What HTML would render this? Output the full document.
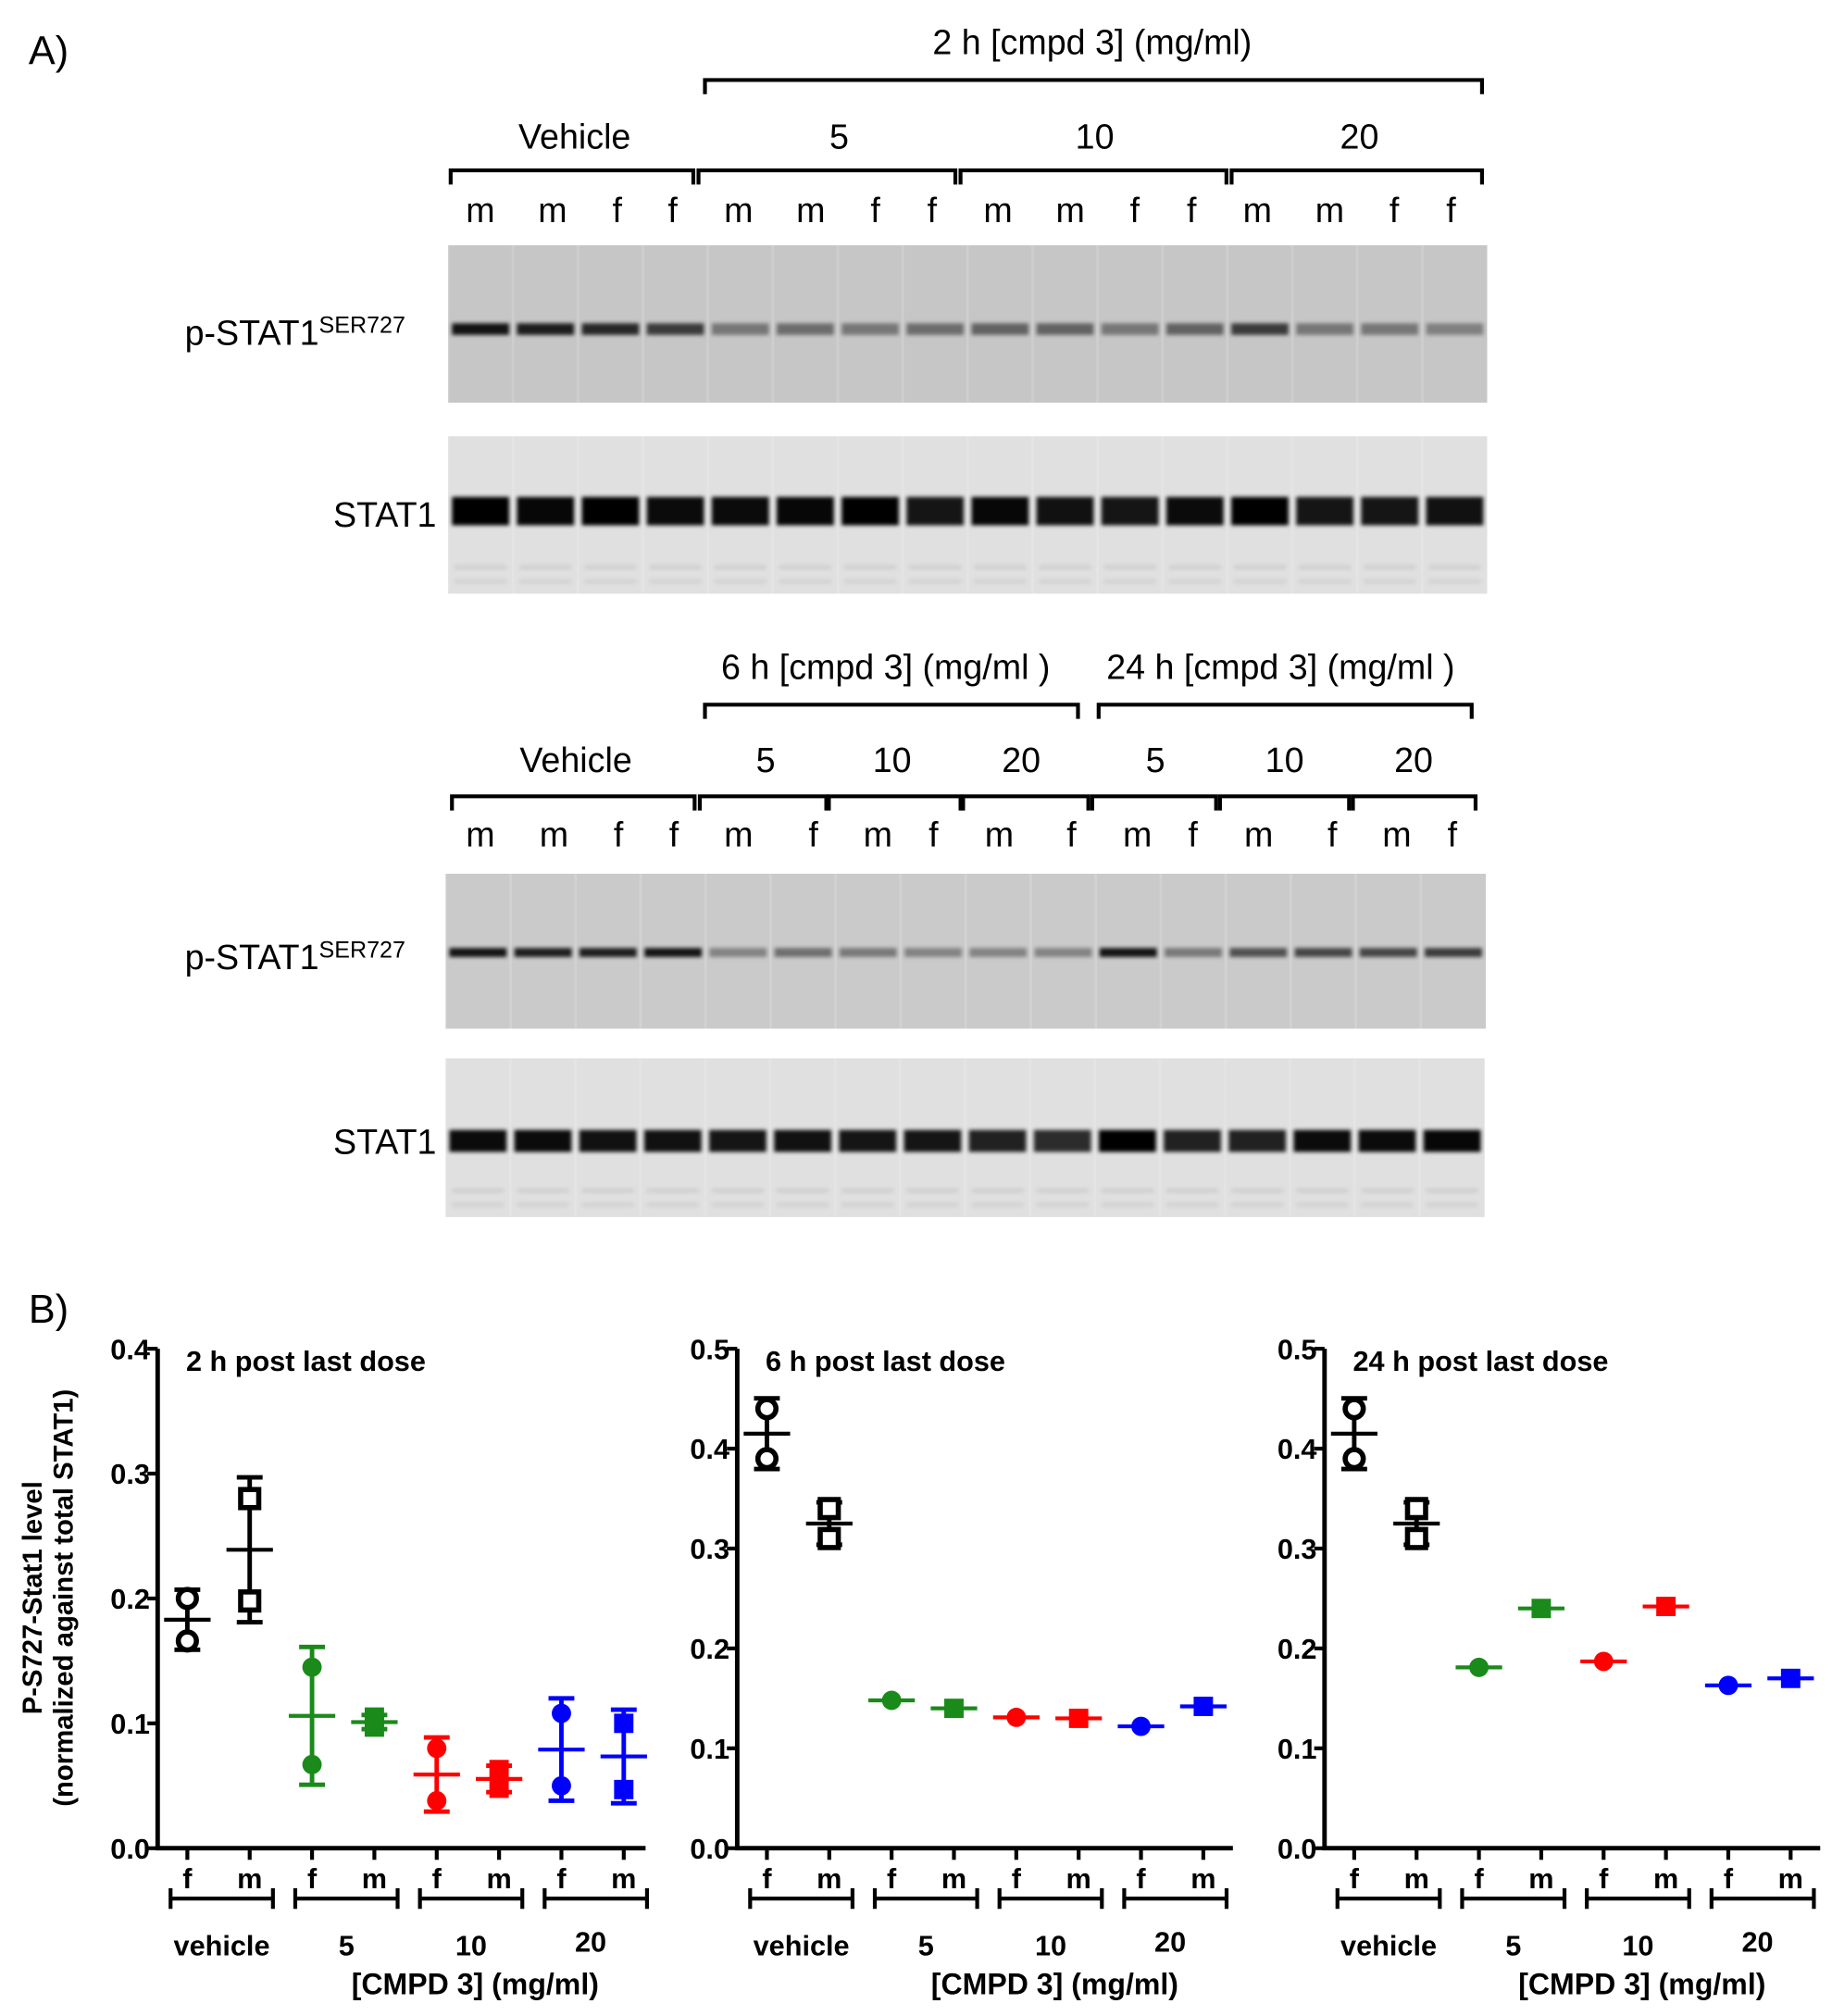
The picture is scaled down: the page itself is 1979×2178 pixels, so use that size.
<!DOCTYPE html>
<html><head><meta charset="utf-8"><style>
html,body{margin:0;padding:0;background:#fff;}
svg{display:block;}
text{font-family:"Liberation Sans",Arial,sans-serif;}
.b{font-weight:bold;}
</style></head><body>
<svg id="fig" xmlns="http://www.w3.org/2000/svg" width="1979" height="2178" viewBox="0 0 1419 1562">
<defs>
<filter id="blur2" x="-20%" y="-200%" width="140%" height="500%"><feGaussianBlur stdDeviation="2.2"/></filter>
<filter id="blur1" x="-20%" y="-200%" width="140%" height="500%"><feGaussianBlur stdDeviation="1.5"/></filter>
</defs>
<g id="panelA"></g>
<g id="panelB"></g>
</svg>
<script>
// ---------- DATA ----------
const laneSex1 = ["m","m","f","f","m","m","f","f","m","m","f","f","m","m","f","f"];
const laneSex2 = ["m","m","f","f","m","f","m","f","m","f","m","f","m","f","m","f"];
const pBand1 = [0.9,0.85,0.8,0.7,0.4,0.45,0.4,0.45,0.5,0.5,0.4,0.5,0.7,0.4,0.4,0.35];
const tBand1 = [1,0.97,1,0.95,0.95,0.97,1,0.9,0.97,0.92,0.9,0.95,1,0.9,0.9,0.92];
const pBand2 = [0.9,0.85,0.85,0.9,0.35,0.45,0.4,0.35,0.35,0.35,0.9,0.4,0.6,0.65,0.65,0.7];
const tBand2 = [0.95,0.95,0.92,0.92,0.9,0.92,0.9,0.9,0.85,0.8,1,0.85,0.85,0.95,0.95,0.97];

const categories = ["f","m","f","m","f","m","f","m"];
const groupLabels = ["vehicle","5","10","20"];
const seriesColors = ["#000","#000","#1a8a1a","#1a8a1a","#ff0000","#ff0000","#0000ff","#0000ff"];
const markerShapes = ["ocircle","osquare","circle","square","circle","square","circle","square"];
const vals2h = [[0.200,0.166],[0.280,0.198],[0.145,0.067],[0.097,0.105],[0.080,0.038],[0.048,0.063],[0.108,0.050],[0.100,0.047]];
const vals6h = [[0.440,0.390],[0.340,0.310],[0.148],[0.140],[0.131],[0.130],[0.122],[0.142]];
const vals24h = [[0.440,0.390],[0.340,0.310],[0.181],[0.240],[0.187],[0.242],[0.163],[0.170]];
const yTicks2h = [0,0.1,0.2,0.3,0.4];
const yTicks6h = [0,0.1,0.2,0.3,0.4,0.5];
const tickLabels2h = ["0.0","0.1","0.2","0.3","0.4"];
const tickLabels6h = ["0.0","0.1","0.2","0.3","0.4","0.5"];

const NS="http://www.w3.org/2000/svg";
function mk(tag,attrs,parent,txt){const e=document.createElementNS(NS,tag);for(const k in attrs)e.setAttribute(k,attrs[k]);if(txt!==undefined)e.textContent=txt;parent.appendChild(e);return e;}

// ---------- PANEL A ----------
const A=document.getElementById('panelA');
let t;
t=mk('text',{x:22,y:50,'font-size':31},A,'A)');



function bracket(x1,x2,y,name){
  const p=mk('path',{d:`M${x1},${y+11}V${y}H${x2}V${y+11}`,fill:'none',stroke:'#000','stroke-width':3},A);
  
  
}
function label(x,y,s,txt,name){
  const e=mk('text',{x:x,y:y,'font-size':s,'text-anchor':'middle'},A,txt);
  
  
}
function blot(x,y,w,h,bg,bandY,bands,thick,name,faint){
  const g=mk('g',{},A);
  
  
  mk('rect',{x:x,y:y,width:w,height:h,fill:bg},g);
  const lw=w/16;
  for(let i=0;i<16;i++){
    const cx=x+lw*(i+0.5);
    mk('rect',{x:x+lw*i-1,y:y,width:2,height:h,fill:'#fff',opacity:0.15},g);
    if(faint){
      mk('rect',{x:cx-lw*0.4,y:bandY+thick+20,width:lw*0.8,height:3,fill:'#aaa',opacity:0.35,filter:'url(#blur1)'},g);
      mk('rect',{x:cx-lw*0.4,y:bandY+thick+31,width:lw*0.8,height:3,fill:'#aaa',opacity:0.3,filter:'url(#blur1)'},g);
    }
    const b=mk('rect',{x:cx-lw*0.44,y:bandY-thick/2,width:lw*0.88,height:thick,fill:'#000',opacity:bands[i],filter:'url(#blur1)'},g);
    
    
  }
}
function pLabel(y,name){
  const e=mk('text',{x:143,y:y,'font-size':27},A);
  
  
  e.appendChild(document.createTextNode('p-STAT1'));
  mk('tspan',{'font-size':18,dy:-9},e,'SER727');
}
// top set
label(846,42,27,'2 h [cmpd 3] (mg/ml)','top-2h-header');
bracket(546,1148,62,'top-2h-bracket');
label(445,115,27,'Vehicle','top-vehicle-label');label(650,115,27,'5','top-dose-5');label(848,115,27,'10','top-dose-10');label(1053,115,27,'20','top-dose-20');
[[349,537],[541,740],[744,950],[954,1148]].forEach((b,i)=>bracket(b[0],b[1],132,'top-group-bracket-'+(i+1)));
const lx1=[372,428,478,521,572,628,678,722,773,829,879,923,974,1030,1080,1124];
laneSex1.forEach((s,i)=>label(lx1[i],172,27,s,'top-lane-sex-'+(i+1)));
blot(347,190,805,122,'#c6c6c6',255,pBand1,9,'blot-pstat1-2h',false);
blot(347,338,805,122,'#e0e0e0',396,tBand1,22,'blot-stat1-2h',true);
pLabel(267,'pstat1-row-label-top');
t=mk('text',{x:338,y:408,'font-size':27,'text-anchor':'end'},A,'STAT1');


// bottom set
label(686,526,27,'6 h [cmpd 3] (mg/ml )','bottom-6h-header');
label(992,526,27,'24 h [cmpd 3] (mg/ml )','bottom-24h-header');
bracket(546,835,546,'bottom-6h-bracket');bracket(851,1140,546,'bottom-24h-bracket');
label(446,598,27,'Vehicle','bottom-vehicle-label');
[[593,'5'],[691,'10'],[791,'20'],[895,'5'],[995,'10'],[1095,'20']].forEach((d,i)=>label(d[0],598,27,d[1],'bottom-dose-'+(i+1)));
[[350,538],[542,640],[642,744],[746,843],[846,942],[945,1045],[1048,1143]].forEach((b,i)=>bracket(b[0],b[1],617,'bottom-group-bracket-'+(i+1)));
const lx2=[372,429,479,522,572,630,680,723,774,830,881,924,975,1032,1082,1125];
laneSex2.forEach((s,i)=>label(lx2[i],656,27,s,'bottom-lane-sex-'+(i+1)));
blot(345,677,806,120,'#cacaca',738,pBand2,7,'blot-pstat1-6h-24h',false);
blot(345,820,805,123,'#e0e0e0',884,tBand2,17,'blot-stat1-6h-24h',true);
pLabel(751,'pstat1-row-label-bottom');
t=mk('text',{x:338,y:894,'font-size':27,'text-anchor':'end'},A,'STAT1');



// ---------- PANEL B ----------
const B=document.getElementById('panelB');
t=mk('text',{x:22,y:1025,'font-size':31},B,'B)');



function chart(ox,axEnd,ymax,ticks,tlabels,vals,title,name){
  const g=mk('g',{},B);
  
  
  const y0=1432,yTop=1045;
  const ys=v=>y0-(v/ymax)*(y0-yTop);
  const xs=i=>ox+23+i*48.3;
  const ax=mk('path',{d:`M${ox},${yTop}V${y0}H${axEnd}`,fill:'none',stroke:'#000','stroke-width':3.5},g);
  
  
  ticks.forEach((v,i)=>{
    mk('line',{x1:ox-8,x2:ox,y1:ys(v),y2:ys(v),stroke:'#000','stroke-width':3},g);
    const tl=mk('text',{x:ox-6,y:ys(v)+8,'font-size':22,'text-anchor':'end',class:'b'},g,tlabels[i]);
    
    
  });
  const tt=mk('text',{x:ox+22,y:1062,'font-size':22,class:'b'},g,title);
  
  
  categories.forEach((c,i)=>{
    mk('line',{x1:xs(i),x2:xs(i),y1:y0,y2:y0+9,stroke:'#000','stroke-width':3},g);
    const cl=mk('text',{x:xs(i),y:1463,'font-size':22,'text-anchor':'middle',class:'b'},g,c);
    
    
  });
  groupLabels.forEach((gl,k)=>{
    const x1=xs(2*k)-13,x2=xs(2*k+1)+18;
    const br=mk('path',{d:`M${x1},${1463}V${1479}M${x1},${1471}H${x2}M${x2},${1463}V${1479}`,stroke:'#000','stroke-width':3,fill:'none'},g);
    
    
    const lt=mk('text',{x:(x1+x2)/2-(k==3?4:0),y:k==3?1512:1515,'font-size':22,'text-anchor':'middle',class:'b'},g,gl);
    
    
  });
  const xt=mk('text',{x:ox+246,y:1545,'font-size':23,'text-anchor':'middle',class:'b'},g,'[CMPD 3] (mg/ml)');
  
  
  vals.forEach((arr,i)=>{
    const col=seriesColors[i],sh=markerShapes[i],x=xs(i);
    const mean=arr.reduce((a,b)=>a+b,0)/arr.length;
    const sg=mk('g',{},g);
    
    
    if(arr.length>1){
      const sd=Math.sqrt(arr.reduce((a,b)=>a+(b-mean)*(b-mean),0)/(arr.length-1));
      mk('line',{x1:x,x2:x,y1:ys(mean-sd),y2:ys(mean+sd),stroke:col,'stroke-width':3.5},sg);
      mk('line',{x1:x-10,x2:x+10,y1:ys(mean-sd),y2:ys(mean-sd),stroke:col,'stroke-width':3.5},sg);
      mk('line',{x1:x-10,x2:x+10,y1:ys(mean+sd),y2:ys(mean+sd),stroke:col,'stroke-width':3.5},sg);
    }
    arr.forEach(v=>{
      let m;
      const y=ys(v);
      if(sh=='ocircle') m=mk('circle',{cx:x,cy:y,r:7,fill:'#fff',stroke:col,'stroke-width':4},sg);
      else if(sh=='osquare') m=mk('rect',{x:x-7,y:y-7,width:14,height:14,fill:'#fff',stroke:col,'stroke-width':4},sg);
      else if(sh=='circle') m=mk('circle',{cx:x,cy:y,r:7.5,fill:col},sg);
      else m=mk('rect',{x:x-7.5,y:y-7.5,width:15,height:15,fill:col},sg);
      
      
    });
    const ml=mk('line',{x1:x-18,x2:x+18,y1:ys(mean),y2:ys(mean),stroke:col,'stroke-width':3},sg);
    
    
  });
}
chart(122,500,0.4,yTicks2h,tickLabels2h,vals2h,'2 h post last dose','chart-2h');
chart(571,955,0.5,yTicks6h,tickLabels6h,vals6h,'6 h post last dose','chart-6h');
chart(1026,1410,0.5,yTicks6h,tickLabels6h,vals24h,'24 h post last dose','chart-24h');

const yt=mk('text',{transform:'translate(32,1238) rotate(-90)','font-size':21,'text-anchor':'middle',class:'b'},B);


mk('tspan',{x:0,dy:0},yt,'P-S727-Stat1 level');
mk('tspan',{x:0,dy:24},yt,'(normalized against total STAT1)');
</script>
</body></html>
